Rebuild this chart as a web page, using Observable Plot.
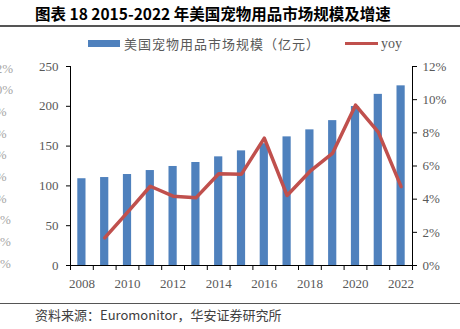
<!DOCTYPE html>
<html>
<head>
<meta charset="utf-8">
<script src="https://cdn.jsdelivr.net/npm/d3@7"></script>
<script src="https://cdn.jsdelivr.net/npm/@observablehq/plot@0.6"></script>
<style>
  html, body { margin: 0; padding: 0; background: #fff; }
  #wrap { position: relative; width: 460px; height: 329px; overflow: hidden; background: #fff; }
  #wrap svg { position: absolute; left: 0; top: 0; }
  .abs { position: absolute; white-space: nowrap; }
  .ghost { position: absolute; left: -10.8px; font: 13px "Liberation Serif", serif; color: #a6a6a6; line-height: 13px; white-space: nowrap; }
</style>
</head>
<body>
<div id="wrap"></div>
<script>
const years = [2008, 2009, 2010, 2011, 2012, 2013, 2014, 2015, 2016, 2017, 2018, 2019, 2020, 2021, 2022];
const marketSize = [109, 110.5, 114.3, 119.3, 124.4, 129.4, 136.5, 144, 153, 161.6, 170.4, 182, 199.7, 215, 225.7];
const yoyYears = [2009, 2010, 2011, 2012, 2013, 2014, 2015, 2016, 2017, 2018, 2019, 2020, 2021, 2022];
const yoyPct = [1.67, 3.2, 4.78, 4.18, 4.08, 5.53, 5.51, 7.68, 4.22, 5.67, 6.78, 9.67, 8.04, 4.76];
const leftTicks = [0, 50, 100, 150, 200, 250];
const rightTicksPct = [0, 2, 4, 6, 8, 10, 12];
const yearLabels = [2008, 2010, 2012, 2014, 2016, 2018, 2020, 2022];
const ghostLabels = ["12%", "10%", "8%", "6%", "4%", "2%", "0%", "-2%", "-4%", "-6%"];
const titleText = "图表 18 2015-2022 年美国宠物用品市场规模及增速";
const legendBar = "美国宠物用品市场规模（亿元）";
const legendLine = "yoy";
const sourceText = "资料来源：Euromonitor，华安证券研究所";

const LEFT_MAX = 250, RIGHT_MAX = 12;
const toLeft = p => p * LEFT_MAX / RIGHT_MAX;

const bars = years.map((y, i) => ({year: y, size: marketSize[i]}));
const yoy = yoyYears.map((y, i) => ({year: y, v: toLeft(yoyPct[i])}));
const half = 0.18;
const serif = '"Liberation Serif", "Times New Roman", serif';
const grey = "#595959";

const chart = Plot.plot({
  width: 460,
  height: 329,
  marginLeft: 70,
  marginRight: 48,
  marginTop: 66,
  marginBottom: 64,
  style: {fontFamily: serif, fontSize: "13px", background: "transparent", overflow: "visible"},
  x: {type: "linear", domain: [2007.5, 2022.5], axis: null},
  y: {domain: [0, LEFT_MAX], axis: null},
  marks: [
    Plot.rect(bars, {x1: d => d.year - half, x2: d => d.year + half, y1: 0, y2: "size", fill: "#4F81BD"}),
    Plot.line(yoy, {x: "year", y: "v", stroke: "#C0504D", strokeWidth: 3.5, strokeLinejoin: "round", strokeLinecap: "round"}),
    Plot.ruleY([0], {stroke: "#000", strokeWidth: 1}),
    Plot.ruleX([2007.5, 2022.5], {y1: 0, y2: LEFT_MAX, stroke: "#000", strokeWidth: 1}),
    Plot.axisY(leftTicks, {anchor: "left", label: null, tickSize: 4, tickPadding: 8, stroke: "#000", fill: grey, fontSize: 13}),
    Plot.axisY(rightTicksPct.map(toLeft), {anchor: "right", label: null, tickSize: 4, tickPadding: 6, stroke: "#000", fill: grey, fontSize: 13,
      tickFormat: d => Math.round(d * RIGHT_MAX / LEFT_MAX) + "%"}),
    Plot.axisX(d3.range(2007.5, 2023, 1), {anchor: "bottom", label: null, tickSize: 5, stroke: "#000", tickFormat: () => ""}),
    Plot.axisX(yearLabels, {anchor: "bottom", label: null, tickSize: 0, tickPadding: 13, fill: grey, fontSize: 13, tickFormat: d => String(d)})
  ]
});

const wrap = document.getElementById("wrap");
wrap.appendChild(chart);

function addDiv(text, css) {
  const el = document.createElement("div");
  el.className = "abs";
  el.textContent = text;
  Object.assign(el.style, css);
  wrap.appendChild(el);
  return el;
}

// ghost labels on far left (cut off by the page edge, as in the reference)
ghostLabels.forEach((t, i) => {
  const el = document.createElement("div");
  el.className = "ghost";
  el.textContent = t;
  el.style.top = (68 + i * 21.67 - 6.5) + "px";
  wrap.appendChild(el);
});

// title
addDiv(titleText, {left: "35px", top: "4px", font: 'bold 15.5px "Noto Sans CJK SC", "Liberation Sans", sans-serif', lineHeight: "18px", color: "#000"});
// rules
addDiv("", {left: "0px", top: "25px", width: "460px", height: "1.5px", background: "#555"});
addDiv("", {left: "0px", top: "302.5px", width: "460px", height: "1.5px", background: "#555"});
// legend
addDiv("", {left: "88px", top: "40px", width: "32px", height: "7px", background: "#4F81BD"});
addDiv(legendBar, {left: "124px", top: "35px", font: '13px "Noto Sans CJK SC", sans-serif', letterSpacing: "1px", lineHeight: "17px", color: grey});
addDiv("", {left: "345px", top: "42px", width: "33px", height: "3px", background: "#C0504D"});
addDiv(legendLine, {left: "381px", top: "35px", font: '14px ' + serif, lineHeight: "17px", color: grey});
// source
addDiv(sourceText, {left: "35px", top: "306px", font: '13px "Noto Sans CJK SC", sans-serif', lineHeight: "18px", color: "#404040"});
</script>
</body>
</html>
